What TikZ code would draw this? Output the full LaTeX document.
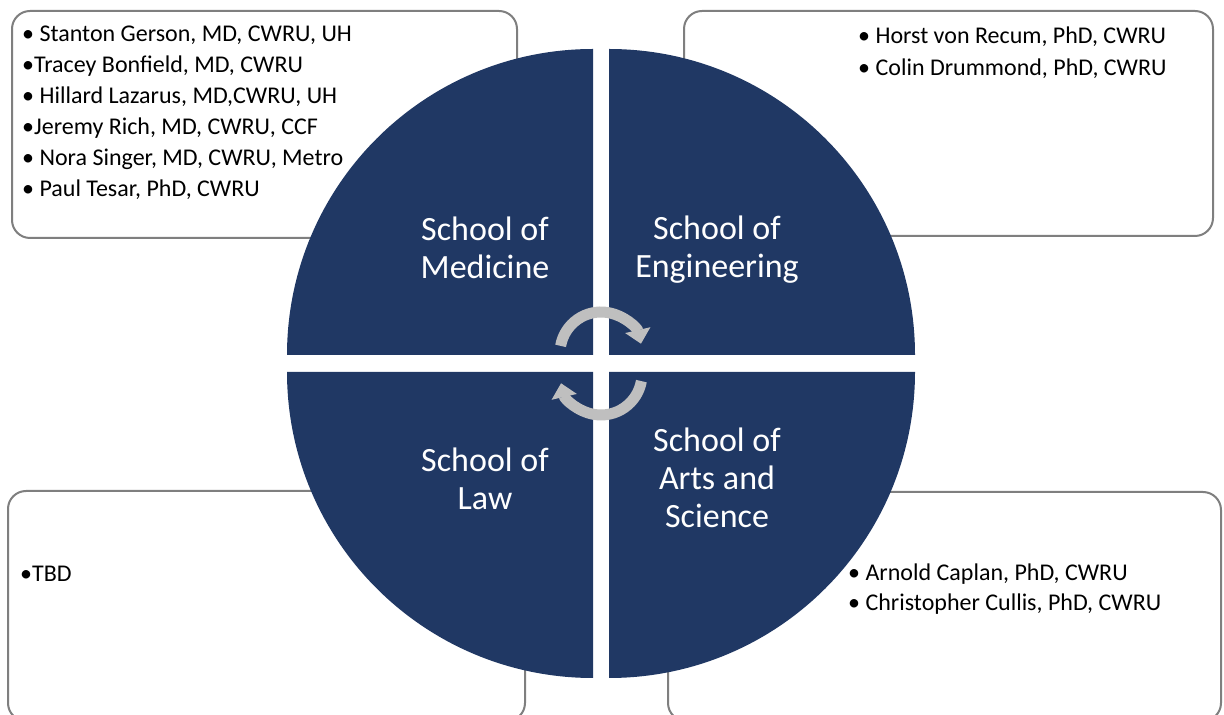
\documentclass[tikz,border=0pt]{standalone}
\usepackage{fontspec}
\setmainfont{Carlito}
\usepackage{xcolor}
\usetikzlibrary{arrows.meta,calc}
\definecolor{navy}{HTML}{203864}
\definecolor{boxgray}{HTML}{7F7F7F}
\definecolor{arrgray}{HTML}{BFBFBF}

\begin{document}
\begin{tikzpicture}[x=1pt,y=1pt,
    member/.style={anchor=base west,inner sep=0pt,font=\fontsize{24}{31}\selectfont},
    school/.style={align=center,text=white,font=\fontsize{34}{38}\selectfont},
    infobox/.style={draw=boxgray,line width=2pt,fill=white,rounded corners=18pt},
    quarter/.style={fill=navy},
    cyc/.style={arrgray,line width=11pt,-{Triangle[width=25pt,length=14pt]}}]
   \useasboundingbox (0,0) rectangle (1224,715);
   \newcommand{\Medlist}{1/{• Stanton Gerson, MD, CWRU, UH},2/{•Tracey Bonfield, MD, CWRU},3/{• Hillard Lazarus, MD,CWRU, UH},4/{•Jeremy Rich, MD, CWRU, CCF},5/{• Nora Singer, MD, CWRU, Metro},6/{• Paul Tesar, PhD, CWRU}}
   \newcommand{\Englist}{1/{• Horst von Recum, PhD, CWRU},2/{• Colin Drummond, PhD, CWRU}}
   \newcommand{\Artslist}{1/{• Arnold Caplan, PhD, CWRU},2/{• Christopher Cullis, PhD, CWRU}}

   % boxes behind the circle
	\draw[infobox] (12,477) rectangle (517,704);
	\draw[infobox] (684,479) rectangle (1213,704);
	\draw[infobox] (8,-6) rectangle (525,224);
	\draw[infobox] (668,-6) rectangle (1221,223);

	\foreach \i/\t in \Medlist{\node[member] (med\i) at (22,704-31*\i) {\t};}
	\foreach \i/\t in \Englist{\node[member] (eng\i) at (858,703-32*\i) {\t};}
	\node[member] (law1) at (20,133) {•TBD};
	\foreach \i/\t in \Artslist{\node[member] (arts\i) at (848,164-30*\i) {\t};}

   % four quarters
    \coordinate (TL) at (593,360);
    \coordinate (TR) at (609,360);
    \coordinate (BL) at (593,343);
    \coordinate (BR) at (609,343);
	\fill[quarter] (TL) -- ++(0,306) arc (90:180:306) -- cycle;
	\fill[quarter] (TR) -- ++(306,0) arc (0:90:306) -- cycle;
	\fill[quarter] (BL) -- ++(-306,0) arc (180:270:306) -- cycle;
	\fill[quarter] (BR) -- ++(0,-306) arc (270:360:306) -- cycle;

	\node[school] (med) at (485,467) {School of\\Medicine};
	\node[school] (eng) at (717,465) {School of\\Engineering};
	\node[school] (law) at (485,236) {School of\\Law};
	\node[school] (arts) at (717,237) {School of\\Arts and\\Science};

   % cycle arrows
    \coordinate (upc) at (601,362);
    \coordinate (lowc) at (601,341);
	\draw[cyc] ([shift={(170:41)}]upc) arc (170:13:41);
	\draw[cyc] ([shift={(-10:41)}]lowc) arc (-10:-167:41);
\end{tikzpicture}
\end{document}
